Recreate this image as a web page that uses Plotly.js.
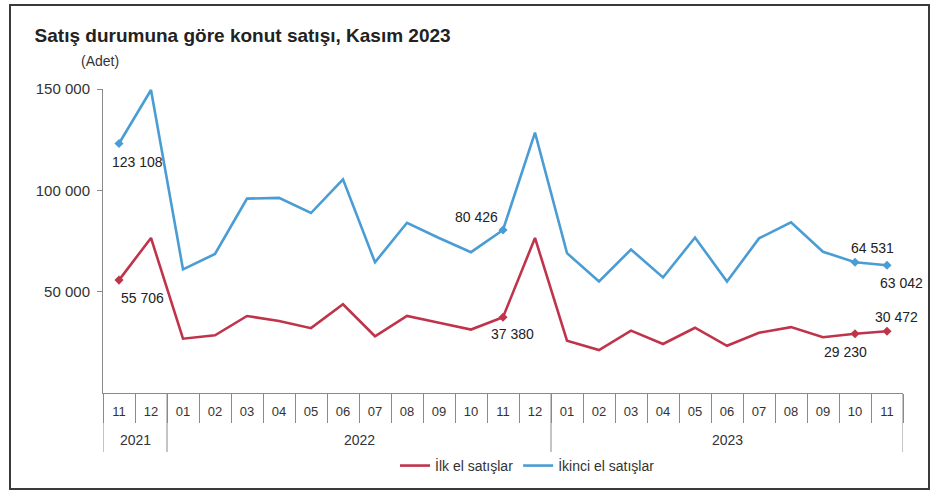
<!DOCTYPE html>
<html>
<head>
<meta charset="utf-8">
<script src="https://cdn.plot.ly/plotly-3.0.1.min.js"></script>
<style>
  html, body { margin: 0; padding: 0; background: #fff; }
  #chart { position: absolute; left: 0; top: 0; width: 935px; height: 501px; }
  #frame { position: absolute; left: 9px; top: 4px; width: 917px; height: 482px;
           border: 2px solid #3a3a3a; pointer-events: none; }
</style>
</head>
<body>
<div id="chart"></div>
<div id="frame"></div>
<script>
// ---- data ----
const years  = ['2021','2021',
  '2022','2022','2022','2022','2022','2022','2022','2022','2022','2022','2022','2022',
  '2023','2023','2023','2023','2023','2023','2023','2023','2023','2023','2023'];
const months = ['11','12',
  '01','02','03','04','05','06','07','08','09','10','11','12',
  '01','02','03','04','05','06','07','08','09','10','11'];
const ilkEl = [55706, 76500, 26800, 28500, 38000, 35500, 32000, 43800, 28000, 38000, 34700, 31300, 37380,
  76500, 25800, 21200, 30800, 24200, 32200, 23300, 29700, 32500, 27500, 29230, 30472];
const ikinciEl = [123108, 149500, 61000, 68600, 95900, 96300, 88800, 105400, 64500, 84000, 76500, 69500, 80426,
  128500, 69000, 55000, 70800, 57000, 76700, 55000, 76300, 84200, 69700, 64531, 63042];
const seriesNames = ['İlk el satışlar', 'İkinci el satışlar'];
const labelled = [0, 12, 23, 24];

// ---- styles ----
const RED = '#bf344b', BLUE = '#4a9dd4';
const FONT = 'Liberation Sans, Arial, sans-serif';
const AXC = '#8a8a8a';
// label offsets in px (style only): [dx, dy] per labelled index
const redOff  = {0: [23, 18], 12: [9, 17], 23: [-10, 18], 24: [9, -14]};
const blueOff = {0: [18, 18], 12: [-27, -13], 23: [17, -14], 24: [14, 18]};

function fmt(n) { return String(n).replace(/\B(?=(\d{3})+(?!\d))/g, ' '); }
const idx = months.map((m, i) => i);

const traces = [
  { x: idx, y: ilkEl, name: seriesNames[0], type: 'scatter', mode: 'lines',
    line: {color: RED, width: 2.6}, cliponaxis: false },
  { x: idx, y: ikinciEl, name: seriesNames[1], type: 'scatter', mode: 'lines',
    line: {color: BLUE, width: 2.6}, cliponaxis: false },
  { x: labelled, y: labelled.map(i => ilkEl[i]), type: 'scatter', mode: 'markers', showlegend: false,
    marker: {color: RED, size: 7, symbol: 'diamond'}, cliponaxis: false },
  { x: labelled, y: labelled.map(i => ikinciEl[i]), type: 'scatter', mode: 'markers', showlegend: false,
    marker: {color: BLUE, size: 7, symbol: 'diamond'}, cliponaxis: false }
];

const annotations = [];
labelled.forEach(i => {
  annotations.push({ x: i, y: ilkEl[i], xref: 'x', yref: 'y', text: fmt(ilkEl[i]), showarrow: false,
    xshift: redOff[i][0], yshift: -redOff[i][1], font: {family: FONT, size: 14, color: '#222'} });
  annotations.push({ x: i, y: ikinciEl[i], xref: 'x', yref: 'y', text: fmt(ikinciEl[i]), showarrow: false,
    xshift: blueOff[i][0], yshift: -blueOff[i][1], font: {family: FONT, size: 14, color: '#222'} });
});
annotations.push({ x: -0.03, y: 1.092, xref: 'paper', yref: 'paper', xanchor: 'left', yanchor: 'middle',
  text: '(Adet)', showarrow: false, font: {family: FONT, size: 14, color: '#333'} });

// year groups (from the years array)
const shapes = [];
let start = 0;
for (let i = 1; i <= years.length; i++) {
  if (i === years.length || years[i] !== years[start]) {
    annotations.push({ x: (start + i - 1) / 2, y: -0.155, xref: 'x', yref: 'paper', yanchor: 'middle',
      text: years[start], showarrow: false, font: {family: FONT, size: 14, color: '#333'} });
    shapes.push({ type: 'line', xref: 'x', yref: 'paper', x0: start - 0.5, x1: start - 0.5, y0: 0, y1: -0.194,
      line: {color: AXC, width: 1} });
    start = i;
  }
}
shapes.push({ type: 'line', xref: 'x', yref: 'paper', x0: years.length - 0.5, x1: years.length - 0.5, y0: 0, y1: -0.194,
  line: {color: AXC, width: 1} });

const layout = {
  width: 935, height: 501,
  paper_bgcolor: '#fff', plot_bgcolor: '#fff',
  margin: {l: 103, r: 32, t: 89, b: 108},
  separators: ', ',
  font: {family: FONT, color: '#333'},
  title: { text: '<b>Satış durumuna göre konut satışı, Kasım 2023</b>', x: 0.037, xanchor: 'left',
    xref: 'container', y: 0.930, yref: 'container', yanchor: 'middle',
    font: {family: FONT, size: 19, color: '#222'} },
  xaxis: {
    range: [-0.5, 24.5], tickmode: 'array', tickvals: idx, ticktext: months,
    showline: true, linecolor: AXC, linewidth: 1, ticks: '', ticklabelstandoff: 6,
    minor: { ticks: 'outside', ticklen: 29, tick0: -0.5, dtick: 1, tickcolor: AXC, tickwidth: 1, showgrid: false },
    showgrid: false, zeroline: false,
    tickfont: {family: FONT, size: 13, color: '#333'}
  },
  yaxis: {
    range: [0, 150000], tickvals: [50000, 100000, 150000], tickformat: ',d',
    showline: true, linecolor: AXC, linewidth: 1, ticks: 'outside', ticklen: 5, tickcolor: AXC,
    ticklabelstandoff: 4,
    showgrid: false, zeroline: false,
    tickfont: {family: FONT, size: 15, color: '#333'}
  },
  showlegend: true,
  legend: { orientation: 'h', x: 0.365, xanchor: 'left', y: -0.24, yanchor: 'middle',
    font: {family: FONT, size: 14, color: '#333'}, bgcolor: 'rgba(0,0,0,0)' },
  annotations: annotations,
  shapes: shapes
};

Plotly.newPlot('chart', traces, layout, {displayModeBar: false, staticPlot: true});
</script>
</body>
</html>
